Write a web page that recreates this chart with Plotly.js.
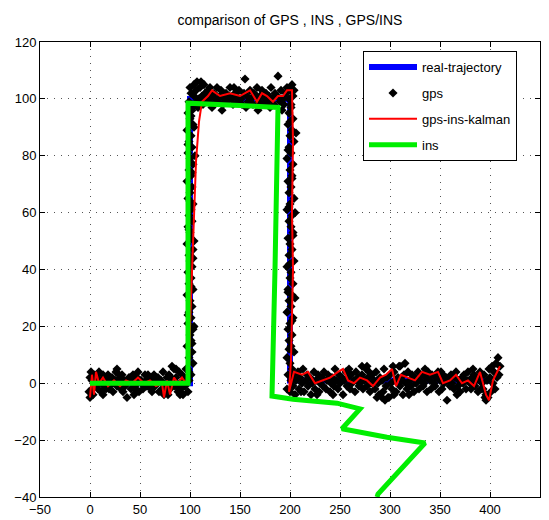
<!DOCTYPE html>
<html>
<head>
<meta charset="utf-8">
<script src="https://cdn.plot.ly/plotly-3.0.1.min.js"></script>
<style>html,body{margin:0;padding:0;background:#fff;}#chart{width:549px;height:520px;}</style>
</head>
<body>
<div id="chart"></div>
<script>
// Real trajectory
const realX = [0, 100, 100, 200, 200, 400];
const realY = [0, 0, 100, 100, 1, 1];

// GPS samples, per leg, [x, y]
const gpsLegA = [[-1,-3],[0,-5],[0,2],[1,4],[2,-2],[2,1],[3,-4],[4,3],[5,0],[6,-1],[7,2],[8,-2],[9,4],[10,1],[11,-3],[12,0],[13,3],[14,-1],[15,2],[16,-2],[17,1],[18,3],[20,-1],[21,0],[22,2],[23,-3],[25,1],[26,4],[27,-1],[28,0],[30,2],[31,-2],[32,3],[34,1],[35,-1],[36,0],[37,-5],[39,2],[40,1],[41,-2],[43,3],[44,0],[45,-1],[47,2],[48,4],[49,-3],[51,1],[52,0],[53,-2],[55,3],[56,1],[57,-1],[59,2],[60,0],[61,-2],[63,1],[64,3],[65,-1],[67,0],[68,2],[69,-3],[71,1],[72,-2],[73,4],[74,-4],[75,-1],[77,2],[78,0],[79,3],[80,-2],[82,6],[83,1],[84,5],[85,-1],[86,2],[88,-3],[89,4],[90,0],[91,-2],[92,3],[93,-4],[94,1],[95,-1],[96,5],[97,2],[98,-3],[99,1],[3,2],[19,-2],[29,3],[33,-3],[42,2],[46,-2],[54,-1],[58,3],[62,-3],[66,2],[70,1],[76,-3],[81,2],[87,-1],[44,-4],[27,5],[13,-4],[78,-4],[86,5],[90,-4]];
const gpsLegB = [[101,3],[98,5],[103,7],[99,9],[102,11],[97,13],[101,15],[100,17],[103,19],[98,21],[101,23],[99,25],[102,27],[100,29],[97,31],[103,33],[99,35],[101,37],[98,39],[102,41],[100,43],[99,45],[103,47],[97,49],[101,51],[100,53],[98,55],[102,57],[99,59],[101,61],[103,63],[98,65],[100,67],[102,69],[97,71],[101,73],[99,75],[103,77],[100,79],[98,81],[102,83],[99,85],[101,87],[97,89],[103,91],[100,93],[98,95],[102,97],[99,4],[102,14],[98,24],[101,34],[103,44],[99,54],[100,64],[102,74],[98,84],[101,94],[104,20],[104,50],[105,80],[104,90]];
const gpsLegC = [[99,99],[101,102],[103,98],[104,101],[106,103],[107,99],[109,100],[110,104],[112,101],[113,98],[115,102],[116,100],[118,103],[119,99],[121,101],[122,97],[124,102],[125,100],[127,104],[128,99],[130,101],[131,103],[133,98],[134,100],[136,102],[137,99],[139,101],[140,104],[142,100],[143,98],[145,102],[146,101],[148,99],[149,103],[151,100],[152,98],[154,102],[155,107],[157,101],[158,99],[160,103],[161,100],[163,98],[164,102],[166,101],[167,104],[169,99],[170,101],[172,103],[173,98],[175,100],[176,102],[178,99],[179,101],[181,104],[182,100],[184,98],[185,102],[187,101],[188,108],[190,99],[191,103],[193,100],[194,98],[196,102],[197,104],[199,100],[200,103],[201,98],[202,105],[203,101],[108,97],[120,104],[132,96],[144,104],[156,97],[168,96],[180,97],[192,96],[204,103],[100,104],[102,96],[104,105],[107,106],[111,106],[114,105]];
const gpsLegD = [[201,97],[199,95],[203,93],[198,91],[202,89],[200,87],[204,85],[199,83],[201,81],[197,79],[203,77],[200,75],[202,73],[198,71],[201,69],[199,67],[204,65],[200,63],[197,61],[202,59],[199,57],[201,55],[203,53],[198,51],[200,49],[202,47],[199,45],[204,43],[197,41],[201,39],[200,37],[203,35],[198,33],[202,31],[199,29],[201,27],[197,25],[203,23],[200,21],[198,19],[202,17],[199,15],[201,13],[204,11],[197,9],[200,7],[202,5],[198,3],[201,1],[200,92],[198,82],[202,72],[199,62],[203,52],[200,42],[198,32],[202,22],[199,12],[203,2],[197,-2],[200,-3],[205,30],[205,60],[206,88]];
const gpsLegE = [[203,-1],[204,3],[205,-4],[206,1],[208,4],[209,-2],[210,2],[212,0],[213,5],[214,-3],[216,1],[217,3],[218,-1],[220,2],[221,-4],[222,0],[224,4],[225,-2],[226,1],[228,3],[229,-3],[230,0],[232,2],[233,-1],[234,4],[236,-2],[237,1],[238,3],[240,-3],[241,0],[242,2],[244,-1],[245,5],[246,1],[248,-2],[249,3],[250,0],[252,2],[253,-4],[254,1],[256,4],[257,-1],[258,2],[260,-2],[261,3],[262,0],[264,1],[265,-3],[266,4],[268,2],[269,-1],[270,0],[272,3],[273,-2],[274,1],[276,5],[277,-1],[278,2],[280,-3],[281,0],[282,3],[284,1],[285,-2],[286,4],[288,0],[289,-4],[290,2],[292,1],[293,-3],[294,5],[296,-1],[297,2],[298,-5],[300,3],[301,0],[302,-2],[304,4],[305,1],[306,-3],[308,2],[309,6],[310,-1],[312,1],[313,-4],[314,3],[316,0],[317,-2],[318,4],[320,1],[321,-1],[322,3],[324,-3],[325,2],[326,0],[328,4],[329,-2],[330,1],[332,3],[333,-1],[334,0],[336,2],[337,-3],[338,4],[340,1],[341,-2],[342,3],[344,0],[345,-1],[346,2],[348,4],[349,-3],[350,1],[352,-2],[353,3],[354,0],[356,2],[357,-6],[358,1],[360,-1],[361,3],[362,0],[364,-2],[365,2],[366,4],[368,-1],[369,1],[370,-3],[372,2],[373,0],[374,3],[376,-2],[377,1],[378,4],[380,0],[381,-2],[382,2],[384,3],[385,-1],[386,1],[388,-3],[389,2],[390,4],[392,0],[393,-2],[394,3],[396,-4],[397,1],[398,-5],[399,5],[400,2],[401,-3],[402,6],[403,0],[404,4],[405,-2],[406,7],[407,2],[408,9],[409,3],[410,6],[295,-6],[292,-5],[299,-5],[304,-4],[277,6],[272,6],[310,6],[315,7],[396,-6],[395,-5],[211,-3],[227,-4],[243,-4],[259,5],[279,4],[287,-5],[303,6],[319,-4],[335,5],[351,4],[367,-4],[383,5],[391,-2]];

// GPS/INS Kalman estimate
const kalX = [0,2,4,6,9,13,18,24,30,36,42,48,54,60,66,72,74,77,80,84,88,92,96,99,100,102,104,106,109,112,118,122,130,140,150,160,167,172,177,183,188,193,197,202,203,202,203,202,201,199,204,212,218,225,232,240,248,253,258,264,270,277,283,290,296,302,306,311,318,325,332,340,348,353,360,366,372,378,384,390,396,399,403,410];
const kalY = [-5,3,-4,4,0,2,-1,1,-1,1,0,2,0,1,-1,0,-5,1,-4,2,0,2,0,4,20,40,60,78,92,99,101,103,101,102,101,103,99,102,101,99,101,101,103,103,85,60,40,20,8,-3,4,3,4,0,1,2,4,5,1,0,2,1,-1,2,3,5,-1,3,2,1,4,3,4,0,1,3,0,1,-1,4,-4,-6,1,6];

// INS
const insX = [0, 98, 98, 188, 185, 182, 203, 247, 270, 252, 297, 335, 288, 287];
const insY = [0, 0, 98.5, 97, 40, -4.5, -5.6, -7, -9, -16, -19, -21, -39, -40];

const gpsAll = gpsLegA.concat(gpsLegB, gpsLegC, gpsLegD, gpsLegE);
const gpsX = gpsAll.map(p => p[0]);
const gpsY = gpsAll.map(p => p[1]);

const traces = [
  {x: realX, y: realY, mode: 'lines', name: 'real-trajectory', line: {color: '#0000ff', width: 6}, legendgroup: 'a'},
  {x: gpsX, y: gpsY, mode: 'markers', name: 'gps', marker: {color: '#000', symbol: 'diamond', size: 7}, legendgroup: 'b'},
  {x: kalX, y: kalY, mode: 'lines', name: 'gps-ins-kalman', line: {color: '#ff0000', width: 2}, legendgroup: 'c'},
  {x: insX, y: insY, mode: 'lines', name: 'ins', line: {color: '#00ee00', width: 5}, legendgroup: 'd'}
];

const axisCommon = {
  showline: true, linecolor: '#000', linewidth: 1, mirror: 'ticks',
  ticks: 'inside', ticklen: 5, tickcolor: '#000',
  showgrid: true, gridcolor: '#555', griddash: '1px,6px', gridwidth: 1,
  zeroline: false, tickfont: {family: 'Liberation Sans, Arial, sans-serif', size: 13, color: '#000'}
};

const layout = {
  width: 549, height: 520,
  margin: {l: 40, r: 9, t: 42, b: 23},
  paper_bgcolor: '#fff', plot_bgcolor: '#fff',
  title: {text: 'comparison of GPS , INS , GPS/INS', font: {family: 'Liberation Sans, Arial, sans-serif', size: 14, color: '#000'}, x: 0.5, xref: 'paper', y: 0.962, yanchor: 'middle'},
  xaxis: Object.assign({}, axisCommon, {range: [-50, 450], dtick: 50, tick0: -50}),
  yaxis: Object.assign({}, axisCommon, {range: [-40, 120], dtick: 20, tick0: -40}),
  showlegend: true,
  legend: {x: 0.646, y: 0.98, xanchor: 'left', yanchor: 'top', bgcolor: '#fff', bordercolor: '#000', borderwidth: 1,
    font: {family: 'Liberation Sans, Arial, sans-serif', size: 13, color: '#000'},
    traceorder: 'grouped', tracegroupgap: 6, itemwidth: 48}
};

Plotly.newPlot('chart', traces, layout, {displayModeBar: false, staticPlot: true});
</script>
</body>
</html>
